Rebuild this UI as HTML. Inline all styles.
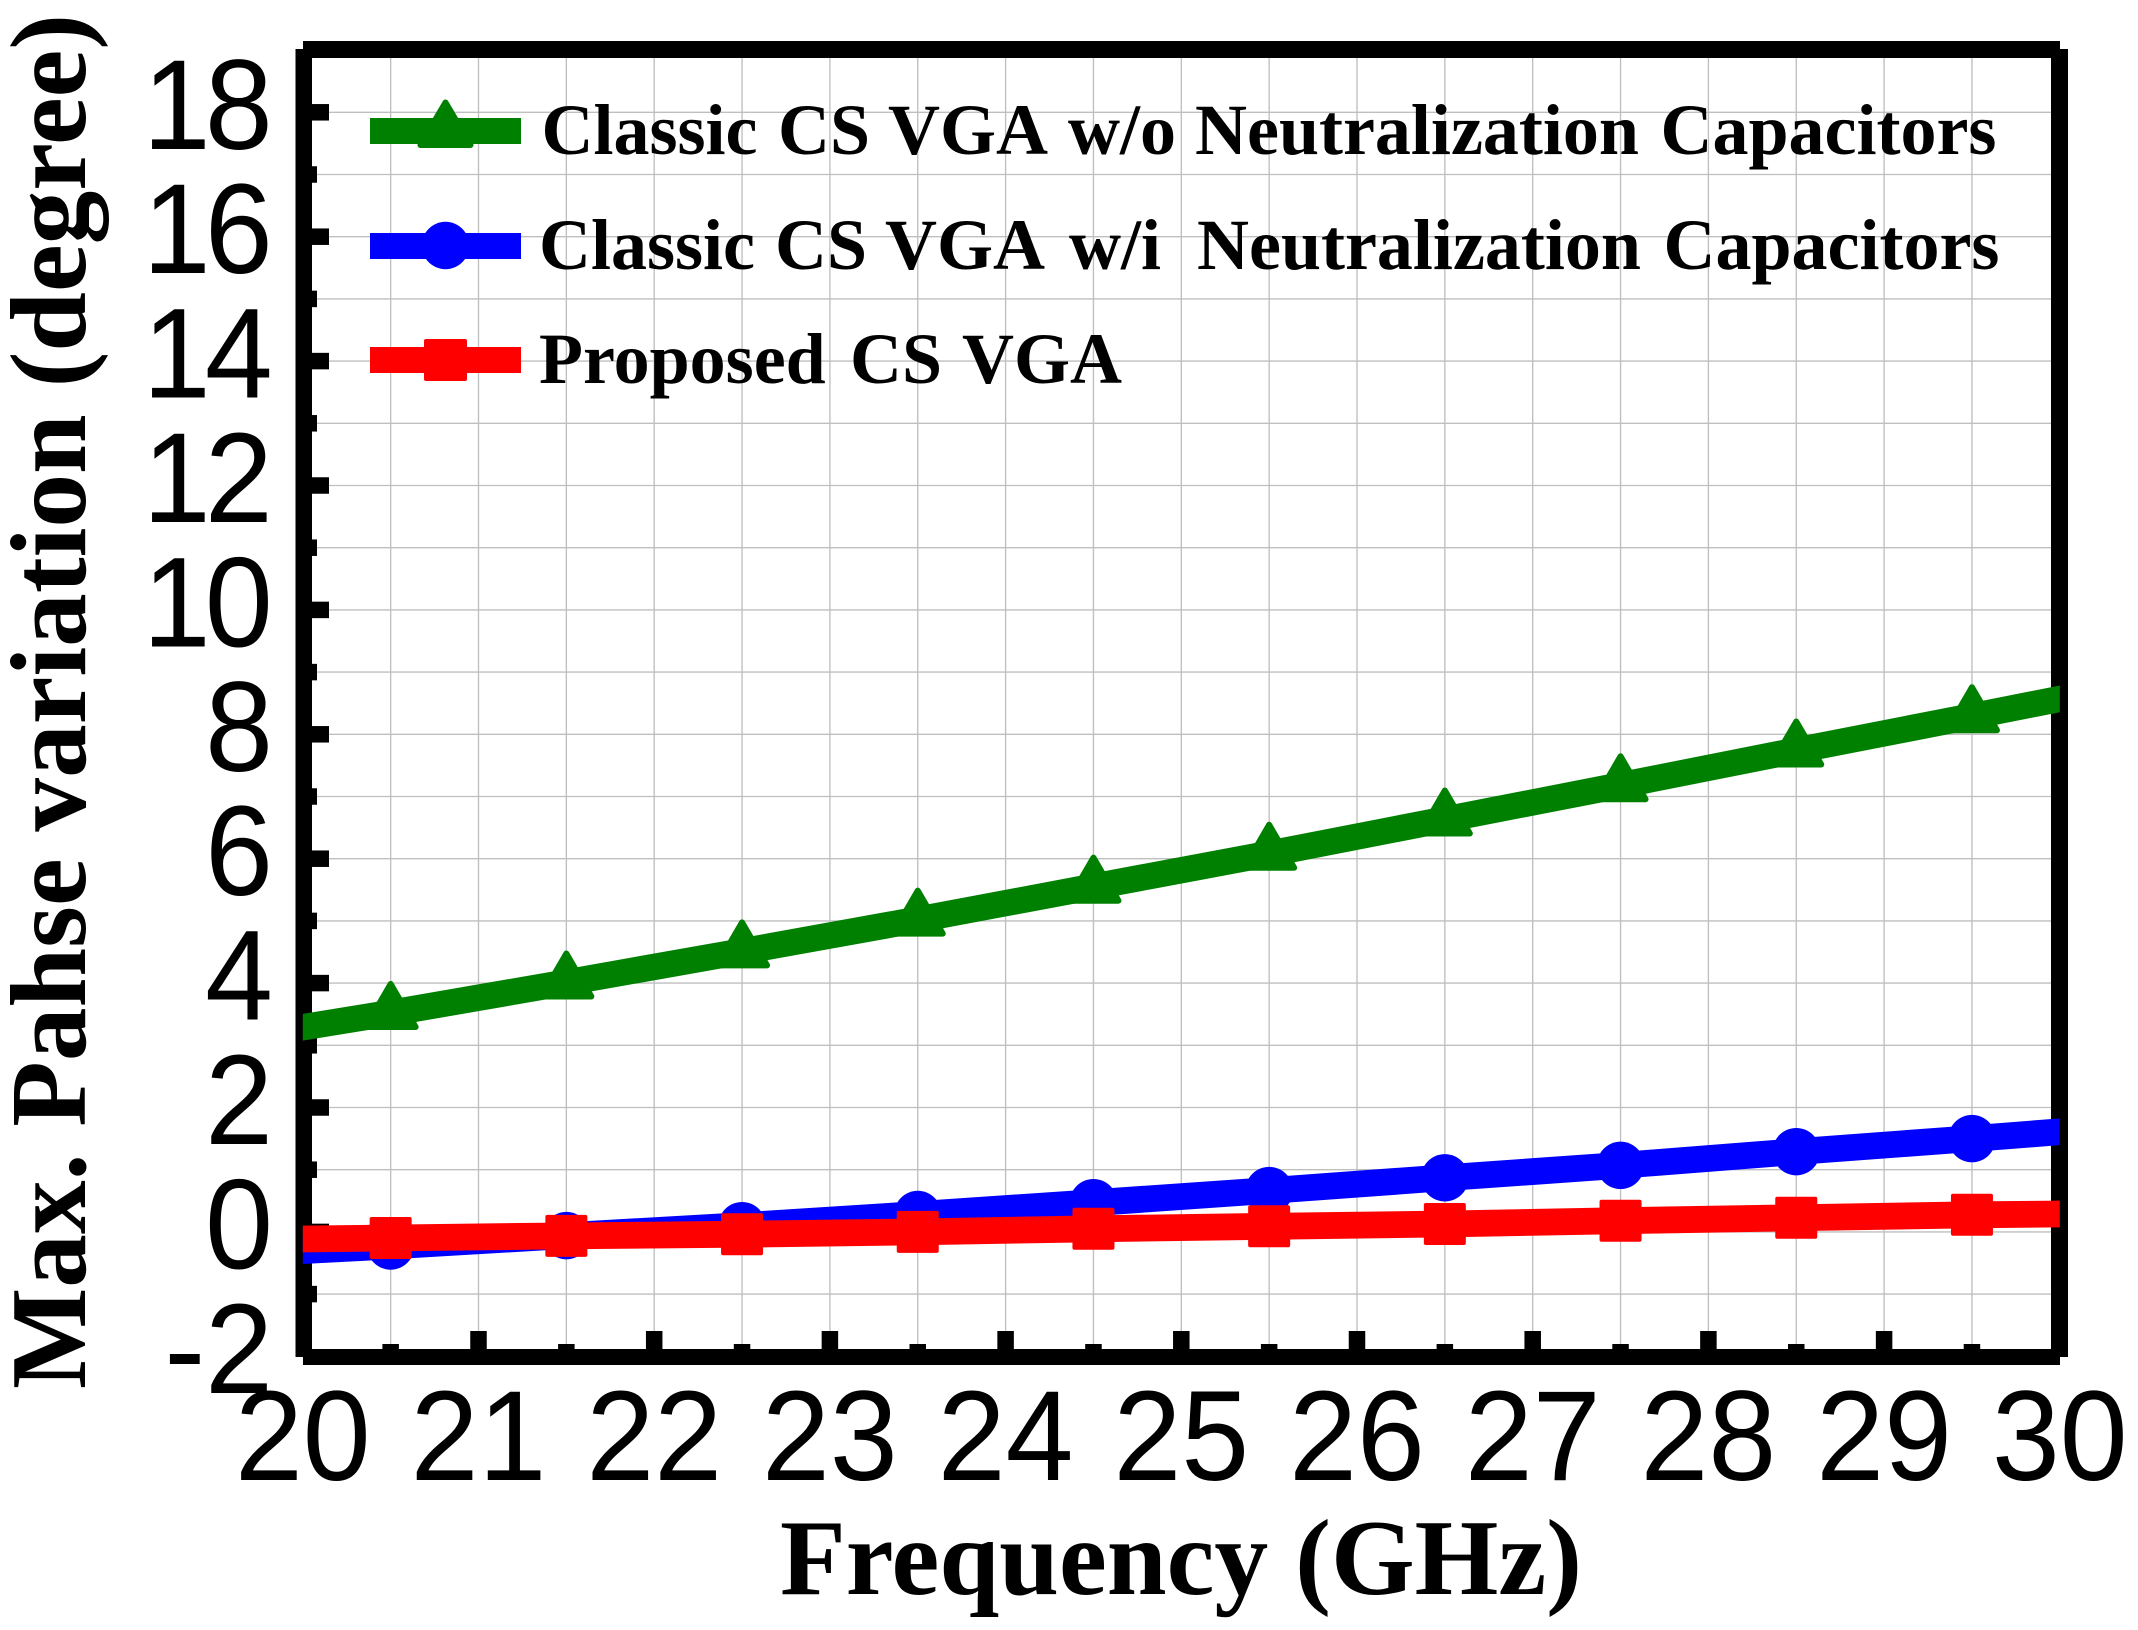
<!DOCTYPE html>
<html lang="en">
<head>
<meta charset="utf-8">
<title>Max. Phase variation vs Frequency</title>
<style>
  html, body { margin: 0; padding: 0; background: #ffffff; }
  svg { display: block; }
  .tick-label { font-family: "Liberation Sans", Arial, sans-serif; font-size: 128px; fill: #000; }
  .title { font-family: "Liberation Serif", "Times New Roman", serif; font-weight: bold; font-size: 108px; fill: #000; }
  .legend-text { font-family: "Liberation Serif", "Times New Roman", serif; font-weight: bold; font-size: 72px; fill: #000; }
</style>
</head>
<body>
<svg id="chart" xmlns="http://www.w3.org/2000/svg" width="2138" height="1630" viewBox="0 0 2138 1630">
  <rect x="0" y="0" width="2138" height="1630" fill="#ffffff"/>
  <g id="grid"></g>
  <g id="ticks"></g>
  <g id="spines">
    <rect x="295.5" y="49" width="16.5" height="1308" fill="#000"/>
    <rect x="2051" y="49" width="17" height="1308" fill="#000"/>
    <rect x="303" y="41" width="1757" height="17" fill="#000"/>
    <rect x="303" y="1349" width="1757" height="16" fill="#000"/>
  </g>
  <g id="y-labels"></g>
  <g id="x-labels"></g>
  <g id="series"></g>

  <g>
    <g>
      <rect x="370" y="118" width="151" height="26" fill="#008000"/>
      <polygon points="445.5,102.5 420.5,145 470.5,145" fill="#008000" stroke="#008000" stroke-width="6" stroke-linejoin="round"/>
      <text class="legend-text" y="154"><tspan x="541.5">Classic</tspan> <tspan x="778">CS</tspan> <tspan x="888">VGA</tspan> <tspan x="1068">w/o</tspan> <tspan x="1195">Neutralization</tspan> <tspan x="1660.5">Capacitors</tspan></text>
    </g>
    <g>
      <rect x="370" y="233" width="151" height="26" fill="#0000ff"/>
      <circle cx="445.5" cy="245.5" r="23.7" fill="#0000ff"/>
      <text class="legend-text" y="269"><tspan x="539">Classic</tspan> <tspan x="775">CS</tspan> <tspan x="885">VGA</tspan> <tspan x="1069">w/i</tspan> <tspan x="1197">Neutralization</tspan> <tspan x="1663.5">Capacitors</tspan></text>
    </g>
    <g>
      <rect x="370" y="347" width="151" height="26" fill="#ff0000"/>
      <rect x="424" y="339" width="43" height="42" rx="2" fill="#ff0000"/>
      <text class="legend-text" y="383"><tspan x="539">Proposed</tspan> <tspan x="850">CS</tspan> <tspan x="962">VGA</tspan></text>
    </g>
  </g>

  <text class="title" transform="translate(85,1389) rotate(-90)" x="0" y="0" textLength="1375" lengthAdjust="spacingAndGlyphs">Max. Pahse variation (degree)</text>
  <text class="title" x="780" y="1594" textLength="802" lengthAdjust="spacingAndGlyphs">Frequency (GHz)</text>
</svg>

<script>
var frequencies = [20, 20.5, 21.5, 22.5, 23.5, 24.5, 25.5, 26.5, 27.5, 28.5, 29.5, 30];
var greenValues = [3.29, 3.52, 4.01, 4.51, 5.02, 5.55, 6.08, 6.63, 7.18, 7.74, 8.29, 8.57];
var blueValues = [-0.30, -0.227, -0.06, 0.10, 0.28, 0.47, 0.665, 0.87, 1.07, 1.29, 1.50, 1.61];
var redValues = [-0.114, -0.098, -0.064, -0.037, 0.0, 0.05, 0.09, 0.127, 0.18, 0.227, 0.275, 0.288];
var xTickLabels = ['20', '21', '22', '23', '24', '25', '26', '27', '28', '29', '30'];
var yTickLabels = ['-2', '0', '2', '4', '6', '8', '10', '12', '14', '16', '18'];
var xMinorTicks = [20.5, 21.5, 22.5, 23.5, 24.5, 25.5, 26.5, 27.5, 28.5, 29.5];
var yMinorTicks = [-1, 1, 3, 5, 7, 9, 11, 13, 15, 17];

function xScale(v) { return 302.8 + (v - 20) * 175.7; }
function yScale(v) { return 1231.9 - v * 62.2; }

var NS = 'http://www.w3.org/2000/svg';
var gridG = document.getElementById('grid');
var ticksG = document.getElementById('ticks');
var yLabelsG = document.getElementById('y-labels');
var xLabelsG = document.getElementById('x-labels');
var seriesG = document.getElementById('series');

function gridLine(x1, y1, x2, y2) {
  var l = document.createElementNS(NS, 'line');
  
  
  l.setAttribute('x1', x1);
  l.setAttribute('y1', y1);
  l.setAttribute('x2', x2);
  l.setAttribute('y2', y2);
  l.setAttribute('stroke', '#bfbfbf');
  l.setAttribute('stroke-width', '1.35');
  gridG.appendChild(l);
}

function tickRect(x, y, w, h) {
  var r = document.createElementNS(NS, 'rect');
  
  
  r.setAttribute('x', x);
  r.setAttribute('y', y);
  r.setAttribute('width', w);
  r.setAttribute('height', h);
  r.setAttribute('fill', '#000');
  ticksG.appendChild(r);
}

function tickLabel(parent, str, x, y, anchor, spacing) {
  var t = document.createElementNS(NS, 'text');
  
  
  t.setAttribute('class', 'tick-label');
  t.setAttribute('transform', 'translate(' + x + ',' + y + ') scale(0.953,1)');
  t.setAttribute('text-anchor', anchor);
  if (spacing) {
    t.setAttribute('letter-spacing', spacing);
  }
  t.textContent = str;
  parent.appendChild(t);
}

xTickLabels.forEach(function (s) {
  var v = Number(s);
  var px = xScale(v);
  if (v > 20 && v < 30) {
    gridLine(px, 58, px, 1349);
    tickRect(px - 8.25, 1331, 16.5, 20);
  }
  tickLabel(xLabelsG, s, px, 1480, 'middle', 0);
});

xMinorTicks.forEach(function (v) {
  var px = xScale(v);
  gridLine(px, 58, px, 1349);
  tickRect(px - 8.25, 1344, 16.5, 7);
});

yTickLabels.forEach(function (s) {
  var v = Number(s);
  var py = yScale(v);
  if (v > -2) {
    gridLine(312, py, 2051, py);
    tickRect(310, py - 8.25, 19, 16.5);
  }
  if (s.length === 2 && s.charAt(0) === '1') {
    tickLabel(yLabelsG, s, 267, py + 36.5, 'end', -6);
  } else {
    tickLabel(yLabelsG, s, 273, py + 36.5, 'end', 0);
  }
});

yMinorTicks.forEach(function (v) {
  var py = yScale(v);
  gridLine(312, py, 2051, py);
  tickRect(310, py - 8.25, 7, 16.5);
});

function linePolygon(values, color, name) {
  var half = 13.4;
  var upper = [];
  var lower = [];
  for (var i = 0; i < frequencies.length; i++) {
    var px = xScale(frequencies[i]);
    var py = yScale(values[i]);
    upper.push(px + ',' + (py - half));
    lower.unshift(px + ',' + (py + half));
  }
  var p = document.createElementNS(NS, 'polygon');
  
  
  p.setAttribute('points', upper.concat(lower).join(' '));
  p.setAttribute('fill', color);
  seriesG.appendChild(p);
}

function markerPoints() {
  return frequencies.slice(1, frequencies.length - 1).map(function (f, i) {
    return { f: f, i: i + 1 };
  });
}

function triangleMarkers(values, color) {
  markerPoints().forEach(function (m) {
    var px = xScale(m.f);
    var py = yScale(values[m.i]);
    var t = document.createElementNS(NS, 'polygon');
    
    
    t.setAttribute('points', px + ',' + (py - 29) + ' ' + (px - 25) + ',' + (py + 14) + ' ' + (px + 25) + ',' + (py + 14));
    t.setAttribute('fill', color);
    t.setAttribute('stroke', color);
    t.setAttribute('stroke-width', '6');
    t.setAttribute('stroke-linejoin', 'round');
    seriesG.appendChild(t);
  });
}

function circleMarkers(values, color) {
  markerPoints().forEach(function (m) {
    var c = document.createElementNS(NS, 'circle');
    
    
    c.setAttribute('cx', xScale(m.f));
    c.setAttribute('cy', yScale(values[m.i]));
    c.setAttribute('r', '23.7');
    c.setAttribute('fill', color);
    seriesG.appendChild(c);
  });
}

function squareMarkers(values, color) {
  markerPoints().forEach(function (m) {
    var r = document.createElementNS(NS, 'rect');
    
    
    r.setAttribute('x', xScale(m.f) - 21);
    r.setAttribute('y', yScale(values[m.i]) - 21);
    r.setAttribute('width', '42');
    r.setAttribute('height', '42');
    r.setAttribute('rx', '2');
    r.setAttribute('fill', color);
    seriesG.appendChild(r);
  });
}

linePolygon(greenValues, '#008000', 'series-line-classic-without');
triangleMarkers(greenValues, '#008000');
linePolygon(blueValues, '#0000ff', 'series-line-classic-with');
circleMarkers(blueValues, '#0000ff');
linePolygon(redValues, '#ff0000', 'series-line-proposed');
squareMarkers(redValues, '#ff0000');
</script>
</body>
</html>
